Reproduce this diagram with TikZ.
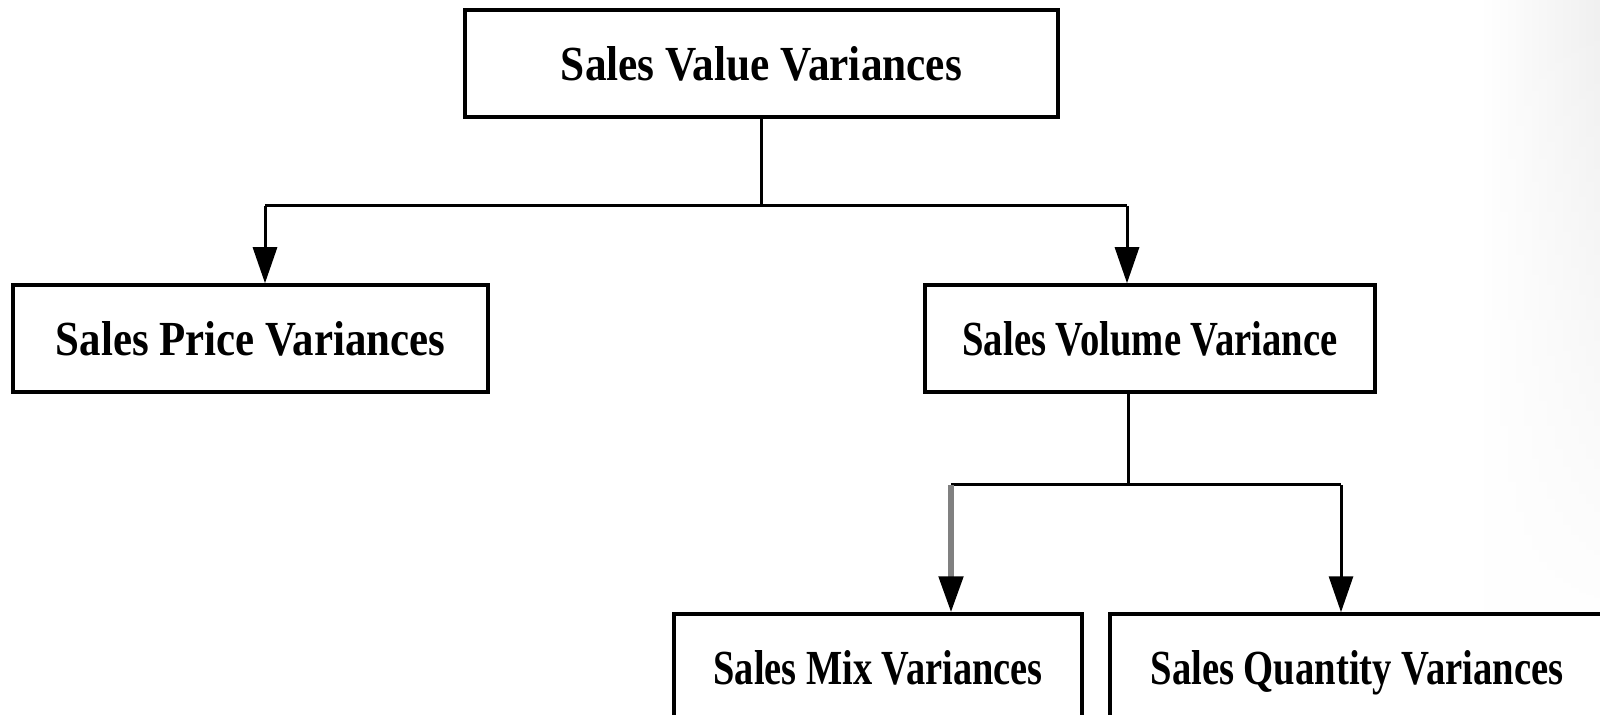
\documentclass[tikz,border=0pt]{standalone}
\usepackage{fontspec}
\setmainfont{Liberation Serif}
\usepackage{graphicx}
\usetikzlibrary{arrows.meta,fadings}

% box label, squeezed to a given width and height
\newcommand{\boxlabel}[2]{\resizebox{#1}{17pt}{\bfseries #2}}

\tikzset{
  varbox/.style={draw=black, line width=1.75pt, fill=white, inner sep=0pt,
    minimum height=53.5pt, text height=17pt, text depth=0pt, align=center},
  link/.style={draw=black, line width=1.5pt},
  arr/.style={link, -{Triangle[width=12pt,length=18pt,color=black]}},
  greyarr/.style={arr, draw=black!50, line width=2.6pt},
}

\begin{document}
\begin{tikzpicture}[x=0.5pt,y=-0.5pt]
  % page area and clipping
  \useasboundingbox (0,0) rectangle (1600,715);
  \clip (0,0) rectangle (1600,715);
  \fill[white] (0,0) rectangle (1600,715);
  % faint shadow along the right edge, fading downwards
  \shade[left color=white, right color=black!6, path fading=south] (1480,0) rectangle (1600,640);

  % variance boxes
  \node[varbox, minimum width=296.5pt] (value)    at (761.5,63.5)  {\boxlabel{200.5pt}{Sales Value Variances}};
  \node[varbox, minimum width=237.5pt] (price)    at (250.5,338.5) {\boxlabel{194.5pt}{Sales Price Variances}};
  \node[varbox, minimum width=225pt]   (volume)   at (1150,338.5)  {\boxlabel{187.5pt}{Sales Volume Variance}};
  \node[varbox, minimum width=204pt]   (mix)      at (878,667.5)   {\boxlabel{164.5pt}{Sales Mix Variances}};
  \node[varbox, minimum width=247pt]   (quantity) at (1357,667.5)  {\boxlabel{206.5pt}{Sales Quantity Variances}};

  % first level split
  \coordinate (j1) at (761.5,206);
  \coordinate (cL) at (265,206);
  \coordinate (cR) at (1127,206);
  \draw[link] (value.south) -- (j1);
  \draw[link] (cL) -- (cR);
  \draw[arr] (cL) -- (cL |- price.north);
  \draw[arr] (cR) -- (cR |- volume.north);

  % second level split
  \coordinate (j2) at (1128,485);
  \coordinate (cM) at (951,485);
  \coordinate (cQ) at (1341,485);
  \draw[link] (j2 |- volume.south) -- (j2);
  \draw[link] (cM) -- (cQ);
  \draw[greyarr] (cM) -- (cM |- mix.north);
  \draw[arr] (cQ) -- (cQ |- quantity.north);
\end{tikzpicture}
\end{document}
